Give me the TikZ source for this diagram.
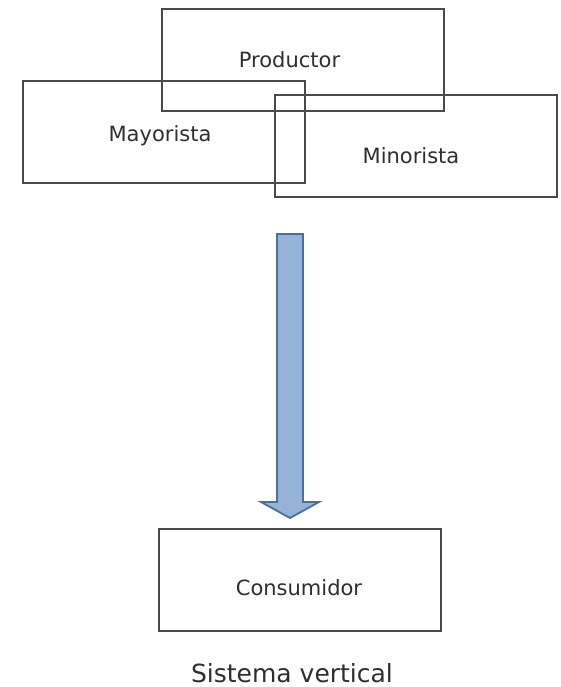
\documentclass[tikz,border=0pt]{standalone}
\usepackage{fontspec}
\setmainfont{DejaVu Sans}
\definecolor{arrowfill}{HTML}{95B3D7}
\definecolor{arrowline}{HTML}{4A6E9E}
\definecolor{boxline}{HTML}{4A4A4A}
\definecolor{txtgray}{HTML}{2E2E2E}
\begin{document}
\begin{tikzpicture}[
    x=1pt, y=-1pt,
    mybox/.style={rectangle, draw=boxline, line width=1.6pt, minimum width=282pt, minimum height=102pt, inner sep=0pt},
    mylabel/.style={text=txtgray, font=\fontsize{21}{25}\selectfont, inner sep=0pt},
    bigarrow/.style={draw=arrowline, fill=arrowfill, line width=1.8pt, line join=miter},
]
\useasboundingbox (0,0) rectangle (560,687);

\node[mybox] (prod) at (303,60) {};
\node[mybox] (may)  at (164,132) {};
\node[mybox] (min)  at (416,146) {};
\node[mybox] (cons) at (300,580) {};

\node[mylabel] (prodtxt) at (289.5,60) {Productor};
\node[mylabel] (maytxt)  at (160,136) {Mayorista};
\node[mylabel] (mintxt)  at (411,156) {Minorista};
\node[mylabel] (constxt) at (299,588) {Consumidor};

\draw[bigarrow] (277,234) -- (303,234) -- (303,502) -- (319,502) -- (290,518) -- (261,502) -- (277,502) -- cycle;

\node[text=txtgray, font=\fontsize{25}{30}\selectfont, inner sep=0pt, anchor=base] (titulo) at (292,682) {Sistema vertical};
\end{tikzpicture}
\end{document}
